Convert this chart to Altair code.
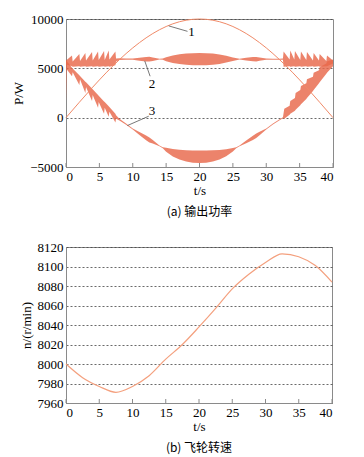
import altair as alt
import pandas as pd

# ---------------- data ----------------
# curve 1 (top panel)
T1 = [0, 2, 4, 6, 8, 10, 12, 14, 16, 18, 20, 22, 24, 26, 28, 30, 32, 34, 36, 38, 40]
P1 = [0, 1564, 3090, 4540, 5878, 7071, 8090, 8910, 9511, 9877, 10000,
      9877, 9511, 8910, 8090, 7071, 5878, 4540, 3090, 1564, 0]

# curve 2 band (upper / lower envelope)
T2 = [0, 0.9, 1.0, 2.0, 2.1, 2.9, 3.0, 3.9, 4.0, 4.8, 4.9, 5.7, 5.8, 6.4, 6.5, 7.4, 7.5,
      8, 9, 10, 11, 12, 12.5, 13, 14, 14.5, 15, 16, 17, 18, 19, 20, 21, 22, 23, 24, 25,
      26, 27, 28, 28.5, 29, 30, 31, 32, 32.5,
      32.6, 33.5, 33.6, 34.2, 34.3, 35.1, 35.2, 36.0, 36.1, 37.0, 37.1, 37.9, 38.0,
      39.0, 39.1, 40]
HI2 = [5800, 6300, 5700, 6450, 5750, 6550, 5800, 6650, 5800, 6700, 5850, 6750, 5850,
       6800, 5900, 6700, 6000,
       6010, 5990, 5990, 6080, 6160, 6180, 6110, 5970, 5990, 6130, 6310, 6430, 6500,
       6540, 6560, 6540, 6500, 6410, 6280, 6110, 5970, 6070, 6150, 6160, 6100, 5990,
       5980, 5980, 5990,
       6700, 5900, 6800, 5900, 6750, 5850, 6700, 5850, 6650, 5800, 6550, 5800, 6450,
       5750, 6300, 5800]
LO2 = [5400, 5200, 5150, 5200, 5150, 5200, 5150, 5200, 5150, 5200, 5150, 5200, 5150,
       5200, 5150, 5300, 5700,
       5850, 5870, 5870, 5780, 5700, 5680, 5750, 5890, 5870, 5730, 5550, 5430, 5360,
       5320, 5300, 5320, 5360, 5450, 5580, 5750, 5890, 5790, 5710, 5700, 5760, 5870,
       5880, 5880, 5870,
       5150, 5200, 5150, 5200, 5150, 5200, 5150, 5200, 5150, 5200, 5150, 5200, 5150,
       5200, 5200, 5500]

# curve 3 band (upper / lower envelope)
T3 = [0, 0.1, 0.9, 1.0, 2.0, 2.1, 2.9, 3.0, 3.9, 4.0, 4.8, 4.9, 5.7, 5.8, 6.4, 6.5, 7.4, 7.5,
      8, 9, 10, 11, 12, 12.5, 13, 14, 14.5, 15, 16, 17, 18, 19, 20, 21, 22, 23, 24, 25,
      25.5, 26, 27, 28, 28.5, 29, 30, 31, 32, 32.5,
      32.7, 33.5, 33.6, 34.3, 34.4, 35.1, 35.2, 36.0, 36.1, 37.0, 37.1, 37.9, 38.0,
      39.0, 39.1, 40]
HI3 = [5800, 5750, 5050, 4980, 4300, 4230, 3650, 3580, 2950, 2880, 2300, 2230, 1650,
       1580, 1150, 1080, 400, 250,
       -120, -590, -1090, -1450, -1820, -2010, -2270, -2810, -2990, -3050, -3170, -3250,
       -3310, -3340, -3340, -3340, -3310, -3270, -3200, -3070, -2990, -2810, -2310,
       -1830, -1600, -1430, -1090, -600, -150, 50,
       900, 1200, 1700, 2000, 2500, 2800, 3200, 3500, 3900, 4150, 4550, 4800, 5100,
       5500, 5700, 5900]
LO3 = [1700, 4900, 4200, 4600, 3300, 3900, 2500, 3100, 1700, 2300, 1000, 1600, 400,
       1000, 100, 600, -500, -100,
       -280, -710, -1210, -1750, -2280, -2510, -2630, -2890, -3110, -3450, -3930, -4250,
       -4450, -4560, -4600, -4560, -4450, -4230, -3900, -3430, -3110, -2890, -2590,
       -2270, -2060, -1770, -1210, -700, -250, -50,
       -100, 300, 400, 700, 800, 1250, 1350, 1900, 2000, 2700, 2800, 3500, 3600,
       4450, 4550, 5200]

# curve labels and leader lines (top panel)
LAB_TXT = ["1", "2", "3"]
LAB_T = [18.8, 12.9, 12.9]
LAB_P = [8650, 3400, 650]
LEAD_T = [15.4, 11.8, 12.4]
LEAD_P = [9300, 5750, 150]
LEAD_T2 = [18.2, 12.6, 9.2]
LEAD_P2 = [8750, 4200, -800]

# flywheel speed (bottom panel)
TN = [0, 2.5, 5, 7.5, 10, 12.5, 15, 17.5, 20, 22.5, 25, 27.5, 30, 32.5, 35, 37.5, 40]
NV = [8000, 7986, 7977, 7971, 7977, 7988, 8005, 8020, 8038, 8057, 8077, 8092, 8104,
      8113, 8110, 8101, 8084]

X_TICKS = [0, 5, 10, 15, 20, 25, 30, 35, 40]
Y_TICKS_TOP = [-5000, 0, 5000, 10000]
Y_TICKS_BOT = [7960, 7980, 8000, 8020, 8040, 8060, 8080, 8100, 8120]

# ---------------- styling ----------------
FRAME = "#8a8a8a"
RED = "#e8684a"
LINE1 = "#f08a68"
SPEED = "#f4a07e"
SERIF = "Liberation Serif, Times New Roman, DejaVu Serif, serif"
CJK = "Noto Sans CJK SC"

W = 267
H_TOP = 148
H_BOT = 156

xs = alt.Scale(domain=[0, 40], nice=False, zero=False)
ys_top = alt.Scale(domain=[-5000, 10000], nice=False, zero=False)
ys_bot = alt.Scale(domain=[7960, 8120], nice=False, zero=False)

x_axis = alt.Axis(values=X_TICKS, ticks=False, grid=False, title="t/s", format="d",
                  labelPadding=3, titlePadding=1, domainColor=FRAME)
y_axis_top = alt.Axis(values=Y_TICKS_TOP, ticks=False, grid=True, title="P/W", format="d",
                      labelPadding=3, titlePadding=4, domainColor=FRAME)
y_axis_bot = alt.Axis(values=Y_TICKS_BOT, ticks=False, grid=True, title="n/(r/min)",
                      format="d", labelPadding=3, titlePadding=4, domainColor=FRAME)

df1 = pd.DataFrame({"t": T1, "P": P1})
df2 = pd.DataFrame({"t": T2, "P": HI2, "lo": LO2})
df3 = pd.DataFrame({"t": T3, "P": HI3, "lo": LO3})
dflab = pd.DataFrame({"t": LAB_T, "P": LAB_P, "txt": LAB_TXT})
dflead = pd.DataFrame({"t": LEAD_T, "P": LEAD_P, "t2": LEAD_T2, "P2": LEAD_P2})
dfticks = pd.DataFrame({"t": X_TICKS})
dfn = pd.DataFrame({"t": TN, "n": NV})

X = alt.X("t:Q", scale=xs, axis=x_axis)
Y_TOP = alt.Y("P:Q", scale=ys_top, axis=y_axis_top)

band2 = alt.Chart(df2).mark_area(color=RED, opacity=0.82, interpolate="linear").encode(
    x=X, y=Y_TOP, y2="lo:Q")
band3 = alt.Chart(df3).mark_area(color=RED, opacity=0.82, interpolate="linear").encode(
    x=X, y=Y_TOP, y2="lo:Q")
line1 = alt.Chart(df1).mark_line(color=LINE1, strokeWidth=1, interpolate="monotone").encode(
    x=X, y=Y_TOP)
leads = alt.Chart(dflead).mark_rule(color="#555555", strokeWidth=0.8).encode(
    x=X, y=Y_TOP, x2="t2:Q", y2="P2:Q")
labels = alt.Chart(dflab).mark_text(font=SERIF, fontSize=13, color="black").encode(
    x=X, y=Y_TOP, text="txt:N")
ticks_top = alt.Chart(dfticks).mark_rule(color=FRAME, strokeWidth=1).encode(
    x=X, y=alt.value(H_TOP), y2=alt.value(H_TOP - 4))

top = alt.layer(band2, band3, line1, leads, labels, ticks_top).properties(
    width=W, height=H_TOP,
    title=alt.TitleParams("(a) 输出功率", orient="bottom", font=CJK, fontSize=12,
                          fontWeight="normal", offset=10, anchor="middle"))

Y_BOT = alt.Y("n:Q", scale=ys_bot, axis=y_axis_bot)
speed = alt.Chart(dfn).mark_line(color=SPEED, strokeWidth=1.2, interpolate="monotone").encode(
    x=X, y=Y_BOT)
ticks_bot = alt.Chart(dfticks).mark_rule(color=FRAME, strokeWidth=1).encode(
    x=X, y=alt.value(H_BOT), y2=alt.value(H_BOT - 4))

bottom = alt.layer(speed, ticks_bot).properties(
    width=W - 1, height=H_BOT,
    title=alt.TitleParams("(b) 飞轮转速", orient="bottom", font=CJK, fontSize=12,
                          fontWeight="normal", offset=10, anchor="middle"))

chart = alt.vconcat(top, bottom, spacing=21).properties(
    padding={"left": 4, "top": 4, "right": 5, "bottom": 5},
    background="white",
).configure_view(
    stroke=FRAME, strokeWidth=1
).configure_axis(
    labelFont=SERIF, labelFontSize=13, labelColor="black",
    titleFont=SERIF, titleFontSize=13, titleFontWeight="normal", titleColor="black",
    gridColor="#444444", gridDash=[2, 2], gridWidth=0.8, domainWidth=1
).configure_title(color="black")

chart.save("out.html", embed_options={"renderer": "svg", "actions": False})
